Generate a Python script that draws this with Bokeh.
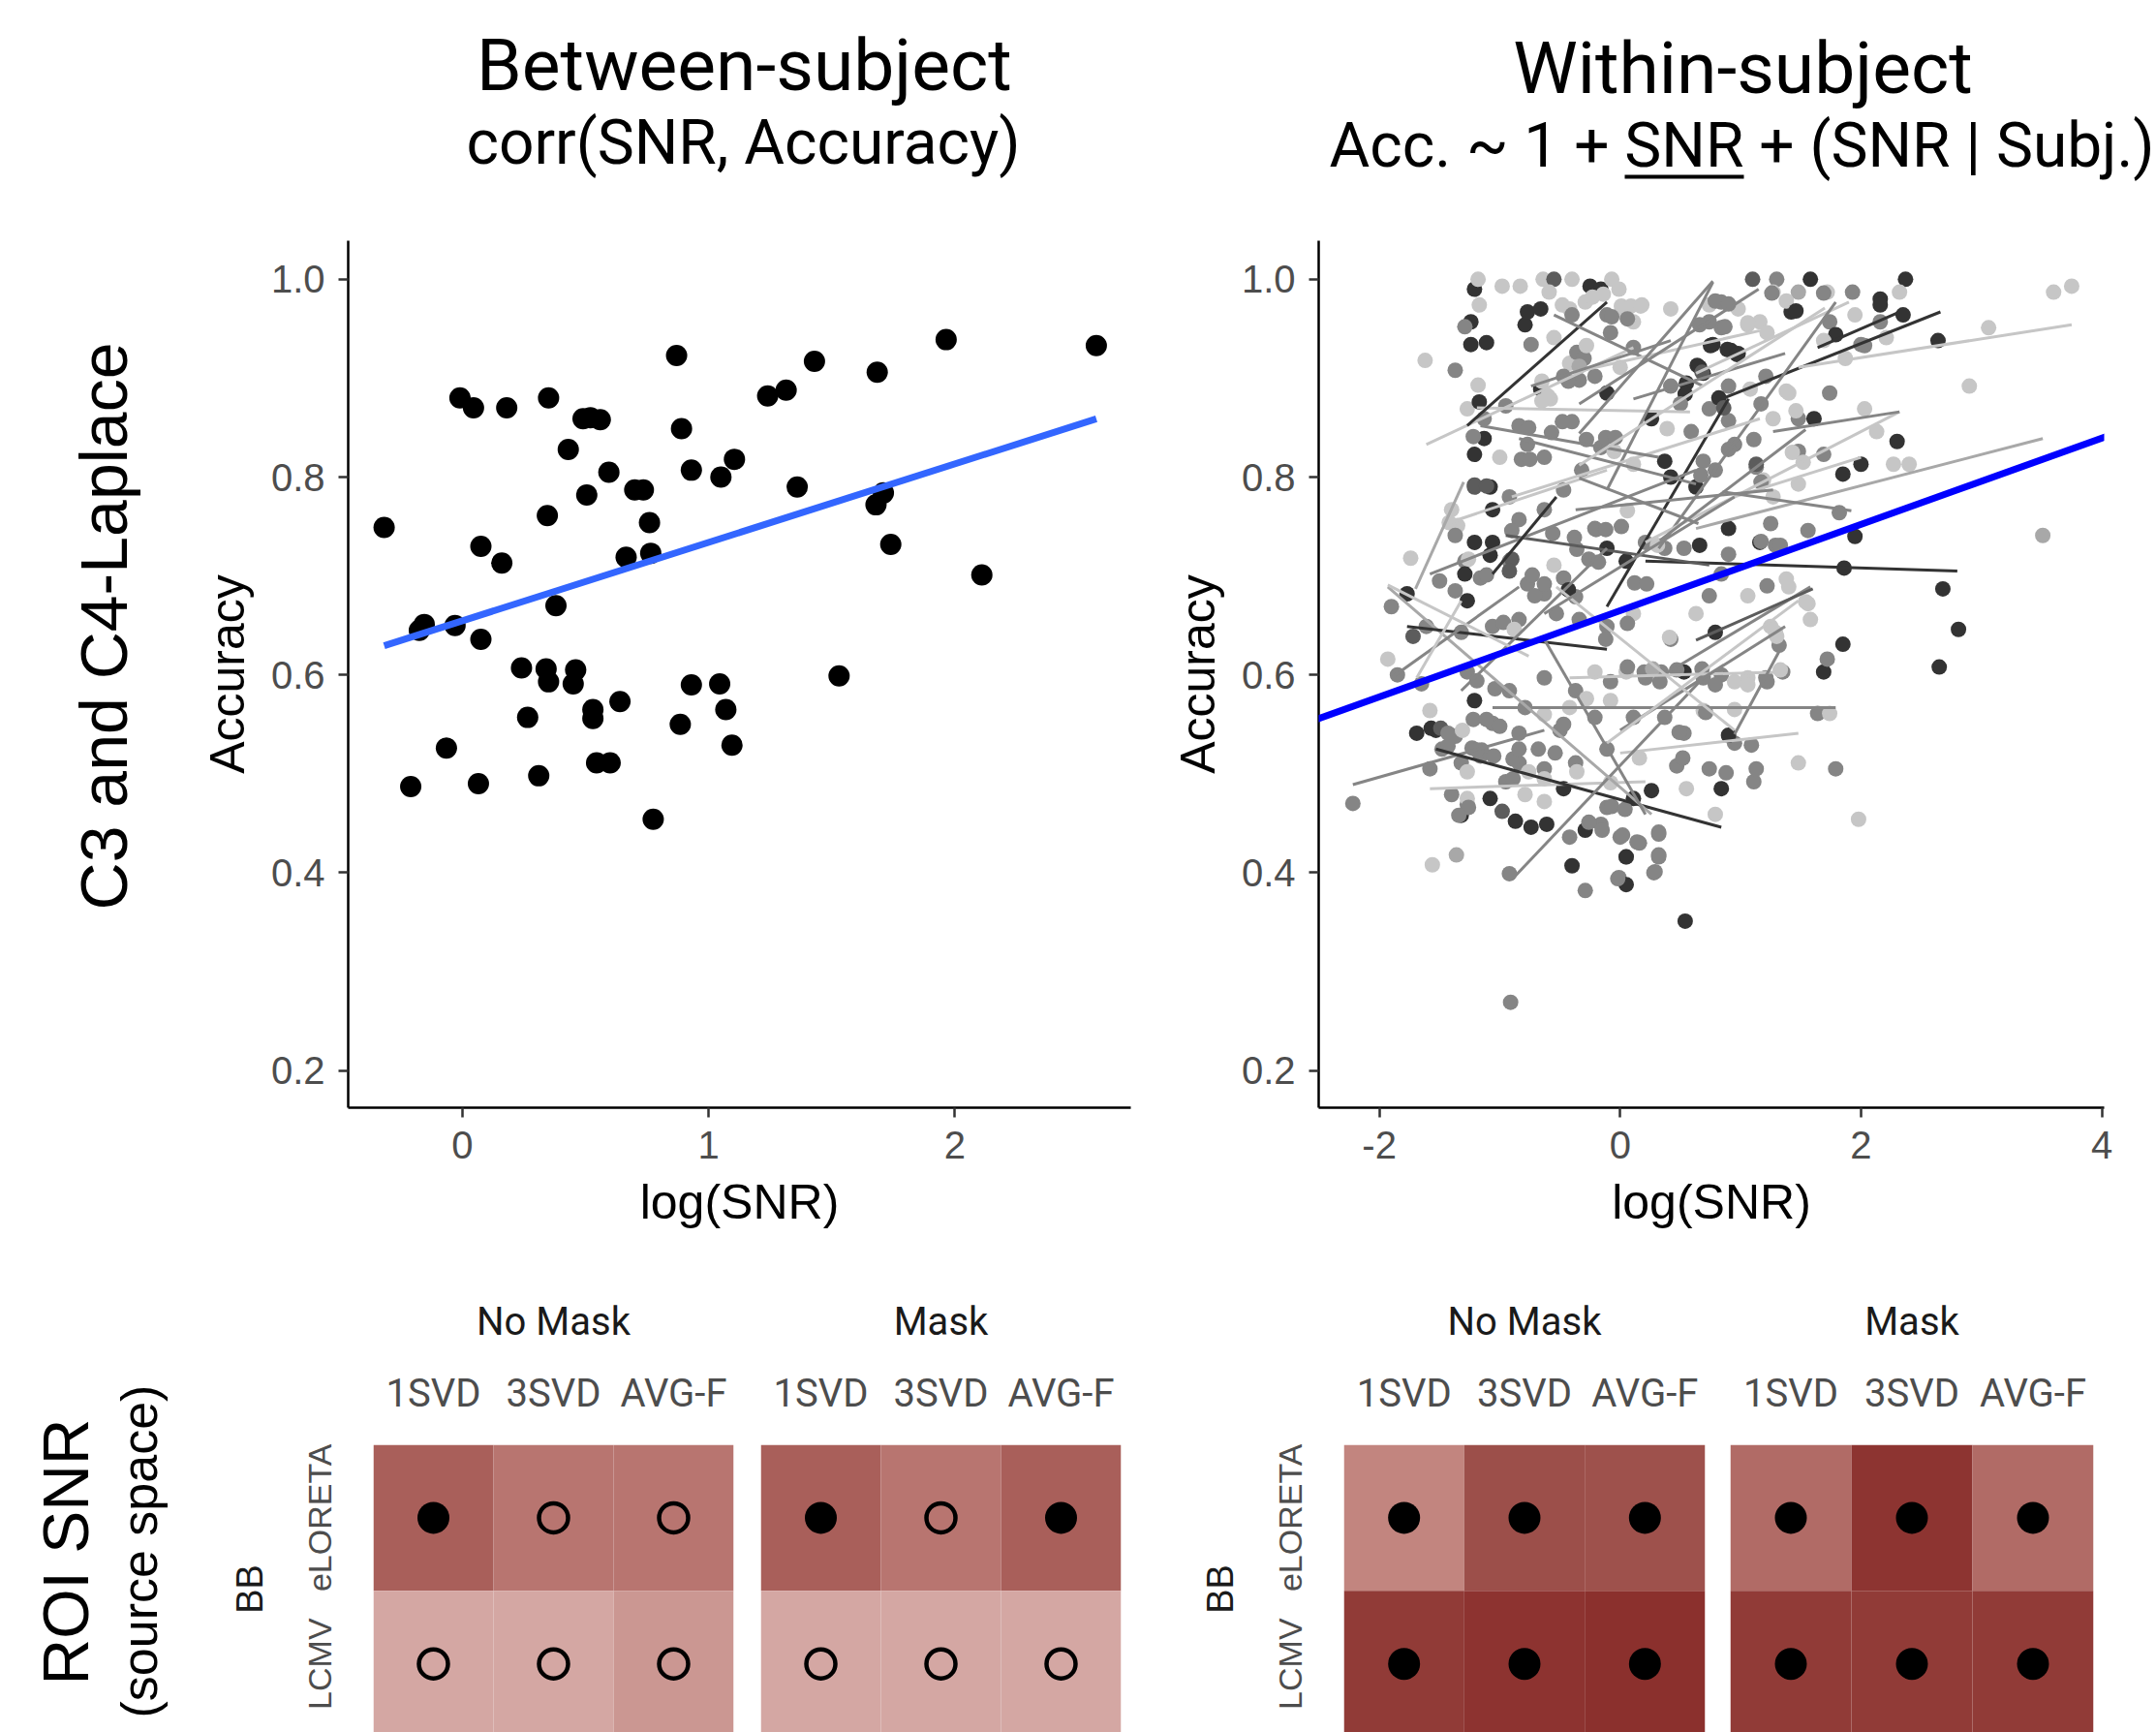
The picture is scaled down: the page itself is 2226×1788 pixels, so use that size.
import math
from bokeh.plotting import figure
from bokeh.layouts import column, row
from bokeh.models import (Range1d, FactorRange, FixedTicker, Title, Slope,
                          LinearColorMapper, PrintfTickFormatter, ColumnDataSource)
from bokeh.core.properties import value
from bokeh.transform import transform
from bokeh.embed import file_html
from bokeh.resources import INLINE

TITLE_FONT = "Roboto"
AXIS_FONT = "Liberation Sans"

# ---------------- Between-subject scatter ----------------
between_snr = [-0.318, -0.21, -0.175, -0.155, -0.065, -0.03, -0.01, 0.045, 0.065, 0.075,
               0.075, 0.16, 0.18, 0.24, 0.265, 0.31, 0.345, 0.35, 0.34, 0.35,
               0.38, 0.43, 0.45, 0.46, 0.49, 0.52, 0.56, 0.505, 0.53, 0.53,
               0.545, 0.60, 0.595, 0.64, 0.665, 0.70, 0.735, 0.76, 0.765, 0.775,
               0.87, 0.89, 0.885, 0.93, 0.93, 1.05, 1.045, 1.07, 1.105, 1.095,
               1.24, 1.315, 1.36, 1.43, 1.53, 1.685, 1.68, 1.71, 1.74, 1.965,
               2.11, 2.575]
between_acc = [0.749, 0.487, 0.645, 0.651, 0.526, 0.650, 0.880, 0.870, 0.490, 0.730,
               0.636, 0.713, 0.870, 0.607, 0.557, 0.498, 0.761, 0.880, 0.606, 0.593,
               0.670, 0.828, 0.591, 0.605, 0.859, 0.860, 0.858, 0.782, 0.565, 0.556,
               0.511, 0.511, 0.805, 0.573, 0.719, 0.787, 0.787, 0.754, 0.723, 0.454,
               0.923, 0.849, 0.550, 0.807, 0.590, 0.800, 0.591, 0.565, 0.818, 0.529,
               0.882, 0.888, 0.790, 0.917, 0.599, 0.906, 0.772, 0.784, 0.732, 0.939,
               0.701, 0.933]
between_fit_intercept = 0.6547
between_fit_slope = 0.0793

# ---------------- Within-subject scatter ----------------
within_snr = [
    -1.21, -1.18, -0.98, -0.83, -0.64, -0.55, -0.40, -0.25, -0.16, -0.07, -0.01, 1.10, 1.30, 1.58, 1.72, 1.93, 2.37, 2.32, 2.16, 3.60, 3.75, 1.48, 1.27,
    -1.24, -1.29, -1.17, -1.24, -1.11, -0.79, -0.77, -0.66, -0.74, -0.55, -0.42, -0.29, -0.11, 0.03, 0.11, 0.18, 0.42, 0.74, 0.84, 0.98, 1.06, 1.42, 1.74, 1.79, 1.95, 2.16, 2.35, 2.64, 3.06, 2.16, 2.00, 1.69, 1.16, 0.84,
    -1.62, -1.37, -1.18, -1.27, -1.13, -0.95, -0.84, -0.66, -0.58, -0.42, -0.34, -0.21, -0.11, 0.00, 0.11, 0.26, 0.42, 0.55, 0.66, 0.69, 0.77, 0.92, 0.98, 0.74, 0.90, 1.08, 1.21, 1.40, 1.48, 1.61, 1.74, 2.90, 2.03, 1.27,
    -1.21, -1.13, -1.00, -0.77, -0.63, -1.21, -1.08, -1.06, -0.92, -1.40, -1.35, -1.42, -1.37, -1.29, -1.21, -1.06, -0.84, -0.63, -0.47, -0.32, -0.16, -0.05, 0.11, 0.37, 0.42, 0.63, 0.69, 0.79, 0.95, 1.13, 1.19, 1.27, 1.48, 1.69, 1.85, 2.00, 2.30, 2.27, 2.40, 1.48,
    -1.74, -1.77, -1.90, -1.93, -1.85, -1.50, -1.37, -1.27, -1.16, -1.08, -0.92, -0.77, -0.63, -0.47, -0.37, -0.21, -0.11, 0.05, 0.21, 0.37, 0.53, 0.66, 0.84, 0.90, 1.16, 1.29, 1.40, 1.56, 1.58, 1.82, 1.95, 1.86, 2.68, 2.81, 2.65, 3.51, 0.79, 0.63, 0.42, 0.11, -0.11, -0.34, -0.53, -0.84, -1.06, -1.32, -1.61, 1.32, 1.29, 1.85, 1.69, 1.72,
    -1.69, -1.58, -1.53, -1.37, -1.21, -1.06, -0.92, -0.79, -0.63, -0.50, -0.37, -0.21, -0.08, 0.05, 0.21, 0.34, 0.53, 0.69, 0.84, 1.06, 1.21, 1.35, 1.64, 1.74, 0.69, 0.53, 0.37, 0.11, -0.21, -0.42,
    -2.22, -1.58, -1.48, -1.32, -1.16, -1.40, -1.32, -1.27, -1.08, -0.95, -0.84, -0.63, -0.47, -0.37, -0.11, 0.11, 0.26, 0.47, 0.55, 0.74, 0.84, 0.79, 1.11, 1.13, 1.48, 1.79, 0.95, 1.98, -0.87, -0.74, -0.61, -0.42, -0.29, -0.16, 0.00, 0.16, 0.32, -0.11,
    -1.56, -1.36, -0.92, -0.40, -0.29, -0.01, 0.05, 0.05, 0.29, 0.32, 0.54, -0.91,
    -0.48, -0.40, -0.59, -1.17, -1.22, -0.76, -0.57, -0.48, -0.40, -0.65, -0.60, -0.65, -0.47, -0.43, -0.36, -0.30, -0.34, -0.82, -0.75, -1.21, -1.11, -0.90, -0.56, -0.38, -1.26, -0.90, -0.92, -1.29, -1.11, -0.73, -0.55, -0.36, -0.71, -0.63, -0.43, -0.97, -0.88, -1.72,
    -0.23, -0.14, 0.01, 0.09, 0.17, -0.07, 0.06, 0.79, 0.90, 1.26, 1.38, 1.46, 1.69, 0.74, 0.66, 0.87, 1.06, 1.22, -0.08, -0.28, 0.75, 0.89, 0.97, 0.64, 0.68, 0.54, 0.50, 0.59, 0.39, 0.90, 0.82, 0.86, 1.17, 1.38, 1.46, 1.11, -0.28, -0.12, -0.04, 0.67, 0.90, 1.13, 1.17, 1.43, 1.52, 1.25, 1.56, 0.01, -0.20, -0.12, 0.06, 0.90, 1.17, 1.33, 0.31, -0.26, -0.18, 0.12, 0.22, 1.06, 1.22, 1.38, 1.54, 0.74, 1.25, 1.30, 0.41, 0.06, -0.12,
    -1.65, -1.04, -1.27, -1.19, -1.57, -1.49, -1.43, -1.31, -1.22, -1.11, -1.23, -1.15, -1.43, -1.27, -1.27, -1.26, -1.34, -0.98, -1.19, -1.05, -0.89, -0.84, -0.68, -0.54, -0.76, -0.63, -0.79, -0.63, -0.89, -0.36, -1.00, -0.84, -0.63, -0.47, -0.28,
    0.06, 0.20, 0.27, -0.08, 0.47, 0.68, 0.33, 0.79, 0.95, 1.06, 1.22, 1.33, 0.71, 0.95, 0.49, 0.90, 1.09, 0.16, 0.52, 0.88, -0.08, -0.07, 0.04, -0.26, -0.15, 0.02, 0.14, 0.32, 0.32, 0.05, 0.28, -0.02,
    2.21, 2.03, 1.87, 2.13,
]
within_acc = [
    0.990, 1.000, 0.993, 0.993, 1.000, 1.000, 1.000, 0.993, 0.990, 1.000, 0.990, 1.000, 1.000, 1.000, 0.987, 0.987, 1.000, 0.987, 0.980, 0.987, 0.993, 0.987, 0.987,
    0.957, 0.952, 0.974, 0.934, 0.936, 0.954, 0.967, 0.970, 0.934, 0.941, 0.970, 0.977, 0.964, 0.967, 0.957, 0.974, 0.970, 0.974, 0.977, 0.970, 0.954, 0.967, 0.957, 0.944, 0.964, 0.974, 0.964, 0.938, 0.951, 0.957, 0.934, 0.938, 0.957, 0.951,
    0.918, 0.908, 0.893, 0.869, 0.859, 0.872, 0.852, 0.889, 0.879, 0.915, 0.898, 0.902, 0.885, 0.911, 0.931, 0.859, 0.892, 0.895, 0.911, 0.905, 0.934, 0.928, 0.925, 0.869, 0.892, 0.889, 0.902, 0.885, 0.859, 0.859, 0.885, 0.892, 0.869, 0.859,
    0.823, 0.839, 0.820, 0.833, 0.820, 0.790, 0.790, 0.767, 0.780, 0.767, 0.751, 0.754, 0.741, 0.715, 0.734, 0.734, 0.757, 0.767, 0.787, 0.807, 0.830, 0.826, 0.813, 0.816, 0.800, 0.790, 0.816, 0.807, 0.833, 0.810, 0.797, 0.780, 0.826, 0.823, 0.803, 0.813, 0.836, 0.813, 0.813, 0.793,
    0.718, 0.682, 0.669, 0.616, 0.600, 0.695, 0.685, 0.675, 0.698, 0.721, 0.715, 0.692, 0.682, 0.698, 0.679, 0.748, 0.728, 0.715, 0.734, 0.728, 0.728, 0.731, 0.702, 0.748, 0.734, 0.731, 0.689, 0.672, 0.656, 0.764, 0.740, 0.708, 0.687, 0.646, 0.608, 0.741, 0.643, 0.662, 0.636, 0.662, 0.649, 0.656, 0.662, 0.656, 0.649, 0.643, 0.649, 0.630, 0.643, 0.631, 0.603, 0.616,
    0.541, 0.564, 0.544, 0.538, 0.574, 0.551, 0.584, 0.567, 0.597, 0.544, 0.584, 0.603, 0.574, 0.603, 0.597, 0.603, 0.603, 0.597, 0.600, 0.597, 0.597, 0.603, 0.561, 0.561, 0.564, 0.541, 0.557, 0.557, 0.557, 0.567,
    0.470, 0.505, 0.525, 0.511, 0.518, 0.479, 0.458, 0.469, 0.475, 0.492, 0.511, 0.505, 0.485, 0.511, 0.525, 0.475, 0.483, 0.508, 0.485, 0.505, 0.485, 0.459, 0.492, 0.505, 0.511, 0.505, 0.531, 0.454, 0.452, 0.446, 0.449, 0.436, 0.443, 0.449, 0.436, 0.430, 0.439, 0.466,
    0.408, 0.418, 0.399, 0.407, 0.382, 0.395, 0.388, 0.416, 0.401, 0.416, 0.351, 0.269,
    0.974, 0.964, 0.987, 0.876, 0.841, 0.850, 0.845, 0.856, 0.856, 0.877, 0.882, 0.897, 0.902, 0.897, 0.926, 0.920, 0.912, 0.818, 0.818, 0.792, 0.791, 0.746, 0.743, 0.739, 0.717, 0.717, 0.705, 0.702, 0.701, 0.701, 0.711, 0.727, 0.680, 0.692, 0.686, 0.653, 0.646, 0.639,
    0.982, 0.985, 0.973, 0.973, 0.973, 0.962, 0.960, 0.978, 0.975, 0.986, 0.978, 0.968, 0.986, 0.957, 0.954, 0.952, 0.956, 0.946, 0.946, 0.933, 0.933, 0.929, 0.924, 0.913, 0.906, 0.884, 0.874, 0.846, 0.849, 0.857, 0.880, 0.870, 0.874, 0.887, 0.867, 0.838, 0.838, 0.840, 0.840, 0.802, 0.828, 0.813, 0.795, 0.825, 0.815, 0.753, 0.746, 0.750, 0.747, 0.747, 0.766, 0.722, 0.735, 0.731, 0.731, 0.717, 0.714, 0.693, 0.692, 0.680, 0.690, 0.697, 0.674, 0.680, 0.649, 0.639, 0.638, 0.652, 0.636,
    0.591, 0.586, 0.603, 0.594, 0.546, 0.546, 0.541, 0.544, 0.555, 0.555, 0.526, 0.524, 0.528, 0.502, 0.475, 0.466, 0.458, 0.462, 0.524, 0.518, 0.515, 0.525, 0.525, 0.521, 0.502, 0.495, 0.479, 0.472, 0.495, 0.502, 0.548, 0.541, 0.560, 0.550, 0.576,
    0.608, 0.603, 0.606, 0.593, 0.605, 0.606, 0.593, 0.590, 0.593, 0.590, 0.593, 0.605, 0.562, 0.565, 0.542, 0.539, 0.529, 0.516, 0.516, 0.501, 0.491, 0.467, 0.464, 0.451, 0.443, 0.438, 0.431, 0.441, 0.418, 0.416, 0.400, 0.394,
    0.941, 0.933, 0.920, 0.846,
]
# subject shade index (0 = darkest ... 4 = lightest)
within_shade = [
    0, 4, 4, 4, 4, 1, 4, 0, 0, 4, 4, 1, 2, 0, 4, 2, 0, 4, 0, 4, 4, 3, 4,
    0, 2, 4, 0, 0, 0, 0, 0, 2, 4, 4, 4, 2, 4, 4, 4, 4, 4, 2, 4, 4, 0, 2, 0, 4, 0, 0, 0, 4, 2, 2, 4, 4, 2,
    4, 2, 4, 4, 2, 2, 2, 0, 4, 4, 2, 2, 0, 4, 2, 0, 2, 0, 0, 0, 0, 0, 0, 2, 2, 4, 2, 4, 2, 0, 2, 4, 4, 4,
    0, 0, 4, 2, 2, 1, 0, 0, 2, 4, 4, 4, 2, 2, 0, 0, 2, 2, 2, 2, 2, 4, 4, 0, 0, 0, 2, 2, 2, 2, 4, 4, 2, 2, 0, 0, 0, 4, 4, 4,
    4, 0, 2, 4, 2, 2, 2, 0, 2, 0, 2, 2, 2, 2, 2, 2, 0, 0, 2, 2, 2, 0, 2, 0, 0, 2, 4, 4, 4, 2, 0, 0, 0, 0, 0, 3, 0, 4, 2, 4, 2, 2, 2, 2, 2, 2, 2, 2, 4, 0, 0, 2,
    0, 4, 0, 2, 0, 2, 2, 2, 2, 2, 2, 4, 4, 4, 2, 2, 0, 2, 2, 4, 2, 2, 2, 4, 4, 2, 2, 2, 2, 4,
    2, 2, 2, 2, 2, 2, 0, 2, 0, 2, 2, 2, 0, 2, 2, 0, 0, 2, 4, 2, 0, 4, 2, 2, 4, 2, 2, 4, 0, 0, 0, 2, 0, 2, 2, 2, 2, 2,
    4, 3, 2, 0, 2, 2, 0, 2, 2, 2, 0, 2,
    4, 2, 4, 0, 2, 2, 2, 2, 2, 4, 4, 4, 2, 2, 2, 2, 3, 2, 2, 1, 1, 2, 2, 2, 4, 1, 1, 0, 2, 2, 4, 2, 2, 2, 0, 2, 4, 1,
    4, 4, 4, 4, 4, 2, 2, 2, 2, 2, 4, 0, 2, 2, 2, 2, 4, 4, 2, 4, 0, 0, 0, 0, 1, 0, 2, 2, 4, 2, 0, 1, 2, 4, 4, 2, 2, 2, 2, 2, 2, 1, 2, 4, 4, 2, 2, 2, 2, 2, 4, 2, 2, 2, 4, 2, 2, 2, 2, 4, 2, 4, 4, 2, 4, 4, 4, 2, 2,
    2, 2, 2, 2, 0, 1, 2, 4, 2, 2, 2, 2, 2, 4, 4, 2, 2, 1, 2, 2, 2, 2, 2, 2, 4, 4, 4, 4, 2, 4, 2, 2, 4, 2, 4,
    2, 2, 3, 2, 2, 2, 2, 2, 4, 4, 2, 4, 2, 4, 2, 0, 2, 4, 2, 2, 4, 2, 2, 2, 2, 2, 2, 2, 2, 0, 2, 2,
    4, 2, 4, 4,
]
# per-subject fitted lines
subj_x0 = [-1.61, -1.19, -1.27, -0.55, -0.42, -0.11, 0.63, 0.84, 1.48, 1.64, 0.32, -0.11, 0.21, 0.63, 0.21,
           -0.95, 0.32, -1.06, 0.00, -2.22, -1.58, -1.53, -0.90, -1.93, -1.77, -1.90, -1.69, -1.32, -0.42, -1.58,
           -1.42, -0.90, -0.84, -1.16, -0.74, 1.27, 0.95, 0.00, -0.11, -0.63, -0.53, -0.37, -0.63, -1.06, 0.11,
           -1.70, -0.34, -0.34, 0.33, 0.85, -0.34, 0.95, 0.63, -0.34, -1.93]
subj_y0 = [0.833, 0.870, 0.852, 0.964, 0.905, 0.787, 0.905, 0.879, 0.911, 0.931, 0.728, 0.669, 0.734, 0.748, 0.715,
           0.741, 0.597, 0.567, 0.521, 0.489, 0.485, 0.525, 0.393, 0.689, 0.649, 0.597, 0.597, 0.584, 0.597, 0.702,
           0.754, 0.780, 0.839, 0.852, 0.892, 0.846, 0.780, 0.544, 0.531, 0.636, 0.689, 0.767, 0.662, 0.702, 0.879,
           0.687, 0.874, 0.812, 0.736, 0.785, 0.799, 0.540, 0.635, 0.844, 0.691]
subj_x1 = [0.11, 0.58, -0.11, 0.69, 1.16, 0.77, 1.90, 2.66, 3.75, 2.32, 1.79, 0.90, 2.32, 3.51, 2.80,
           0.74, 1.58, 1.79, 1.48, -0.63, 0.21, 0.84, 0.69, 0.26, -0.11, -0.84, -1.32, -0.11, 1.35, 0.63,
           -0.11, 1.16, 0.63, 0.32, 0.42, 2.32, 2.00, 1.37, 1.48, 0.21, 0.95, 1.27, 0.95, -0.53, 1.37,
           -1.30, 1.15, 1.70, 1.54, 1.92, 0.65, 1.33, 1.60, 0.77, -0.76]
subj_y1 = [0.931, 0.866, 0.977, 0.892, 0.948, 0.997, 0.977, 0.967, 0.954, 0.967, 0.977, 0.879, 0.866, 0.839, 0.705,
           0.711, 0.689, 0.567, 0.541, 0.544, 0.492, 0.446, 0.597, 0.459, 0.626, 0.689, 0.675, 0.728, 0.603, 0.807,
           0.807, 0.859, 0.793, 0.820, 0.938, 0.866, 0.820, 0.649, 0.675, 0.459, 0.544, 0.787, 0.780, 0.780, 0.925,
           0.795, 0.990, 0.971, 0.848, 0.766, 0.753, 0.626, 0.687, 0.998, 0.619]
subj_shade = [4, 4, 0, 2, 4, 2, 4, 0, 4, 0, 2, 0, 4, 3, 0,
              1, 2, 2, 4, 2, 4, 0, 2, 3, 0, 2, 4, 2, 4, 2,
              4, 4, 2, 2, 2, 2, 4, 2, 4, 2, 4, 2, 2, 0, 2,
              3, 2, 4, 2, 2, 2, 2, 1, 2, 4]
pop_intercept = 0.665
pop_slope = 0.0436

acc_ticks = [0.2, 0.4, 0.6, 0.8, 1.0]
between_snr_ticks = [0, 1, 2]
within_snr_ticks = [-2, 0, 2, 4]

# ---------------- ROI SNR heatmaps ----------------
heat_methods = ["1SVD", "3SVD", "AVG-F"]
heat_rows = ["eLORETA", "LCMV"]          # top row first
between_nomask_val = [0.70, 0.60, 0.60, 0.38, 0.38, 0.45]
between_mask_val = [0.70, 0.60, 0.70, 0.38, 0.38, 0.38]
within_nomask_val = [0.53, 0.785, 0.77, 0.87, 0.905, 0.93]
within_mask_val = [0.645, 0.90, 0.645, 0.87, 0.87, 0.87]
between_nomask_sig = [1, 0, 0, 0, 0, 0]
between_mask_sig = [1, 0, 1, 0, 0, 0]
within_nomask_sig = [1, 1, 1, 1, 1, 1]
within_mask_sig = [1, 1, 1, 1, 1, 1]

gray_palette = ["#333333", "#5C5C5C", "#858585", "#A8A8A8", "#C6C6C6"]
heat_anchors = [(0.0, "#FFFFFF"), (0.38, "#D4A7A3"), (0.53, "#C2857F"), (0.70, "#A95F5A"),
                (0.785, "#9C4F4A"), (0.90, "#8D3431"), (1.0, "#862826")]


def hex2rgb(h):
    return tuple(int(h[i:i + 2], 16) for i in (1, 3, 5))


def build_palette(anchors, n=256):
    out = []
    for k in range(n):
        v = k / (n - 1)
        for (v0, c0), (v1, c1) in zip(anchors[:-1], anchors[1:]):
            if v0 <= v <= v1:
                t = (v - v0) / (v1 - v0)
                a, b = hex2rgb(c0), hex2rgb(c1)
                out.append("#%02x%02x%02x" % tuple(int(round(a[i] + (b[i] - a[i]) * t)) for i in range(3)))
                break
    return out


heat_mapper = LinearColorMapper(palette=build_palette(heat_anchors), low=0, high=1)


def blank_fig(w, h, x0, x1, y_top, y_bot, top_border=0, left_border=0):
    p = figure(frame_width=w, frame_height=h, x_range=Range1d(x0, x1), y_range=Range1d(y_bot, y_top),
               x_axis_location=None, y_axis_location=None, toolbar_location=None, output_backend="svg",
               min_border_left=left_border, min_border_right=0, min_border_top=top_border, min_border_bottom=0)
    p.outline_line_color = None
    p.grid.visible = False
    return p


def put_text(p, x, y, txt, font, size, color="black", angle=0.0):
    p.text(x=[x], y=[y], text=[txt], angle=angle, text_font=value(font), text_font_size=value(size),
           text_color=color, text_align="center", text_baseline="middle")


# ---- title band
T = blank_fig(2226, 248, 0, 2226, 0, 248)
put_text(T, 768, 66, "Between-subject", TITLE_FONT, "75px")
put_text(T, 767, 147, "corr(SNR, Accuracy)", TITLE_FONT, "64px")
put_text(T, 1799, 69, "Within-subject", TITLE_FONT, "75px")
put_text(T, 1798, 150, "Acc. ~ 1 + SNR + (SNR | Subj.)", TITLE_FONT, "64px")
T.segment(x0=[1677], y0=[182], x1=[1800], y1=[182], line_width=4, line_color="black")

# ---- left strips
S1 = blank_fig(170, 1052, 0, 170, 248, 1300)
put_text(S1, 106, 646, "C3 and C4-Laplace", AXIS_FONT, "68px", angle=math.pi / 2)

# strips in the heatmap row share the heatmaps' frame (1491..1788)
S2 = blank_fig(126, 297, 174, 300, 1491, 1788, top_border=191, left_border=174)
S2.add_layout(Title(text="(source space)", align="left", offset=15, vertical_align="top", standoff=0,
                    text_font=AXIS_FONT, text_font_size="52px", text_font_style="normal",
                    text_color="black"), "left")
S2.add_layout(Title(text="ROI SNR", align="left", offset=49, vertical_align="bottom", standoff=20,
                    text_font=AXIS_FONT, text_font_size="66px", text_font_style="normal",
                    text_color="black"), "left")
put_text(S2, 257, 1640, "BB", AXIS_FONT, "38px", color="#1A1A1A", angle=math.pi / 2)

S3 = blank_fig(100, 297, 1200, 1300, 1491, 1788, top_border=191)
put_text(S3, 1259, 1640, "BB", AXIS_FONT, "38px", color="#1A1A1A", angle=math.pi / 2)


def style_scatter(p, xticks):
    p.xaxis.ticker = FixedTicker(ticks=xticks)
    p.xaxis.formatter = PrintfTickFormatter(format="%d")
    p.yaxis.ticker = FixedTicker(ticks=acc_ticks)
    p.yaxis.formatter = PrintfTickFormatter(format="%.1f")
    for ax in (p.xaxis[0], p.yaxis[0]):
        ax.axis_line_color = "black"
        ax.axis_line_width = 2.5
        ax.major_tick_line_color = "#333333"
        ax.major_tick_line_width = 2.5
        ax.major_tick_out = 10
        ax.major_tick_in = 0
        ax.minor_tick_line_color = None
        ax.major_label_text_font = AXIS_FONT
        ax.major_label_text_font_size = "40px"
        ax.major_label_text_color = "#4D4D4D"
        ax.axis_label_text_font = AXIS_FONT
        ax.axis_label_text_font_size = "50px"
        ax.axis_label_text_font_style = "normal"
        ax.axis_label_text_color = "black"
    p.xaxis.major_label_standoff = 14
    p.xaxis.axis_label_standoff = 14
    p.yaxis.major_label_standoff = 14
    p.yaxis.axis_label_standoff = 14
    p.grid.visible = False
    p.outline_line_color = None


def scatter_fig(xr, mbl, fw, mbr, xticks):
    p = figure(frame_width=fw, frame_height=895, min_border_left=mbl, min_border_right=mbr,
               min_border_top=0, min_border_bottom=157,
               x_range=Range1d(*xr), y_range=Range1d(0.1624, 1.039),
               x_axis_label="log(SNR)", y_axis_label="Accuracy",
               toolbar_location=None, output_backend="svg")
    style_scatter(p, xticks)
    return p


# ---- between-subject scatter
pA = scatter_fig((-0.464, 2.715), 189, 808, 33, between_snr_ticks)
nb = min(len(between_snr), len(between_acc))
pA.scatter(between_snr[:nb], between_acc[:nb], size=22, fill_color="black", line_color=None)
bx = [min(between_snr), max(between_snr)]
pA.line(bx, [between_fit_intercept + between_fit_slope * v for v in bx], line_color="#3366FF", line_width=7)

# ---- within-subject scatter
pB = scatter_fig((-2.504, 4.02), 161, 811, 54, within_snr_ticks)
nw = min(len(within_snr), len(within_acc), len(within_shade))
src_w = ColumnDataSource(dict(x=within_snr[:nw], y=within_acc[:nw],
                              c=[gray_palette[s] for s in within_shade[:nw]]))
pB.scatter("x", "y", source=src_w, size=16, fill_color="c", line_color=None)
ns = min(len(subj_x0), len(subj_y0), len(subj_x1), len(subj_y1), len(subj_shade))
src_l = ColumnDataSource(dict(x0=subj_x0[:ns], y0=subj_y0[:ns], x1=subj_x1[:ns], y1=subj_y1[:ns],
                              c=[gray_palette[s] for s in subj_shade[:ns]]))
pB.segment(x0="x0", y0="y0", x1="x1", y1="y1", source=src_l, line_color="c", line_width=3)
pB.add_layout(Slope(gradient=pop_slope, y_intercept=pop_intercept, line_color="#0000FF", line_width=7))


def heat_fig(vals, sig, strip, mbl, fw, mbr, show_y):
    xs = [m for r in heat_rows for m in heat_methods]
    ys = [len(heat_rows) - 1 - i for i, r in enumerate(heat_rows) for m in heat_methods]
    p = figure(frame_width=fw, frame_height=297, min_border_left=mbl, min_border_right=mbr,
               min_border_top=191, min_border_bottom=0,
               x_range=FactorRange(*heat_methods), y_range=Range1d(-0.47, 1.5),
               x_axis_location="above", y_axis_location="left" if show_y else None,
               toolbar_location=None, output_backend="svg")
    src = ColumnDataSource(dict(x=xs, y=ys, v=vals))
    p.rect(x="x", y="y", width=1, height=1, source=src, fill_color=transform("v", heat_mapper), line_color=None)
    fx = [x for x, s in zip(xs, sig) if s]
    fy = [y for y, s in zip(ys, sig) if s]
    ox = [x for x, s in zip(xs, sig) if not s]
    oy = [y for y, s in zip(ys, sig) if not s]
    if fx:
        p.scatter(fx, fy, size=33, fill_color="black", line_color=None)
    if ox:
        p.scatter(ox, oy, size=30, fill_color=None, line_color="black", line_width=4.5)
    ax = p.xaxis[0]
    ax.axis_line_color = None
    ax.major_tick_line_color = None
    ax.minor_tick_line_color = None
    ax.major_label_text_font = TITLE_FONT
    ax.major_label_text_font_size = "40px"
    ax.major_label_text_color = "#4D4D4D"
    ax.major_label_standoff = 24
    if show_y:
        ay = p.yaxis[0]
        ay.ticker = FixedTicker(ticks=[len(heat_rows) - 1 - i for i in range(len(heat_rows))])
        ay.major_label_overrides = {len(heat_rows) - 1 - i: r for i, r in enumerate(heat_rows)}
        ay.axis_line_color = None
        ay.major_tick_line_color = None
        ay.minor_tick_line_color = None
        ay.major_label_text_font = AXIS_FONT
        ay.major_label_text_font_size = "34px"
        ay.major_label_text_color = "#4D4D4D"
        ay.major_label_orientation = "vertical"
        ay.major_label_standoff = 30
    p.add_layout(Title(text=strip, align="center", text_font=TITLE_FONT, text_font_size="40px",
                       text_font_style="normal", text_color="#1A1A1A", standoff=47), "above")
    p.grid.visible = False
    p.outline_line_color = None
    return p


hm1 = heat_fig(between_nomask_val, between_nomask_sig, "No Mask", 85, 372, 14, True)
hm2 = heat_fig(between_mask_val, between_mask_sig, "Mask", 14, 372, 43, False)
hm3 = heat_fig(within_nomask_val, within_nomask_sig, "No Mask", 87, 373, 13, True)
hm4 = heat_fig(within_mask_val, within_mask_sig, "Mask", 13, 375, 65, False)

layout = column(T, row(S1, pA, pB), row(S2, hm1, hm2, S3, hm3, hm4))

open("out.html", "w").write(file_html(layout, INLINE))
